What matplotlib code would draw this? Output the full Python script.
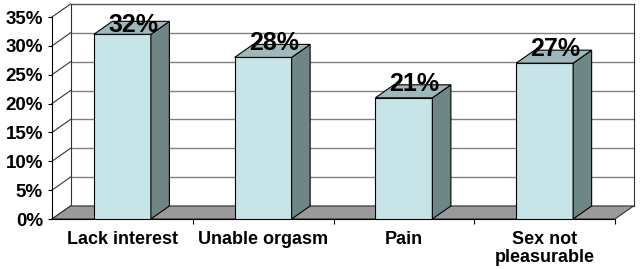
import matplotlib
matplotlib.use("Agg")
import matplotlib.pyplot as plt
from matplotlib.patches import Polygon

categories = ["Lack interest", "Unable orgasm", "Pain", "Sex not\npleasurable"]
values = [32, 28, 21, 27]
labels = ["32%", "28%", "21%", "27%"]
yticks = [0, 5, 10, 15, 20, 25, 30, 35]

W, H = 644, 269
PX_CAT = 140.75
PX_PCT = 5.771
DX = 18.5 / PX_CAT     # depth offset in category units
DY = 13.0 / PX_PCT     # depth offset in percent units
BW = 0.405
YMAX = 35

FRONT = "#C6E4E8"
SIDE = "#6E8686"
TOP = "#9EB9BB"
FLOOR = "#9A9A9A"
GRID = "#808080"

plt.rcParams['font.family'] = ['Liberation Sans', 'DejaVu Sans']
fig = plt.figure(figsize=(W / 100, H / 100), dpi=100)
ax_w = (4 + DX) * PX_CAT
ax_h = (YMAX + DY) * PX_PCT
ax = fig.add_axes([52 / W, 50 / H, ax_w / W, ax_h / H])
ax.set_xlim(-0.5, 3.5 + DX)
ax.set_ylim(0, YMAX + DY)
ax.set_facecolor("none")

x0, x1 = -0.5, 3.5
# back wall gridlines and left wall diagonals
for t in yticks:
    ax.plot([x0 + DX, x1 + DX], [t + DY, t + DY], color=GRID if t < YMAX else "#555555",
            lw=1.0, zorder=1, clip_on=False)
    ax.plot([x0, x0 + DX], [t, t + DY], color="#333333", lw=0.8, zorder=1, clip_on=False)
# back wall edges
ax.plot([x0 + DX, x0 + DX], [DY, YMAX + DY], color="#333333", lw=0.8, zorder=1, clip_on=False)
ax.plot([x1 + DX, x1 + DX], [DY, YMAX + DY], color="#333333", lw=0.8, zorder=1, clip_on=False)
# floor
ax.add_patch(Polygon([(x0, 0), (x1, 0), (x1 + DX, DY), (x0 + DX, DY)], closed=True,
                     facecolor=FLOOR, edgecolor="#333333", lw=0.8, zorder=2, clip_on=False))

# bars
xs = list(range(len(categories)))
ax.bar(xs, values, width=BW, color=FRONT, edgecolor="black", linewidth=0.8, zorder=3)
for x, v, lab in zip(xs, values, labels):
    l, r = x - BW / 2, x + BW / 2
    ax.add_patch(Polygon([(r, 0), (r + DX, DY), (r + DX, v + DY), (r, v)], closed=True,
                         facecolor=SIDE, edgecolor="black", lw=0.8, zorder=3, clip_on=False))
    ax.add_patch(Polygon([(l, v), (r, v), (r + DX, v + DY), (l + DX, v + DY)], closed=True,
                         facecolor=TOP, edgecolor="black", lw=0.8, zorder=3, clip_on=False))
    ly = min(v + 1.2, 32.4)
    ax.text(x + DX / 2 + 0.01, ly, lab, ha="center", va="baseline", fontsize=18,
            fontweight="bold", color="black", zorder=5)

# axes
for s in ["top", "right"]:
    ax.spines[s].set_visible(False)
ax.spines["left"].set_bounds(0, YMAX)
ax.spines["bottom"].set_bounds(x0, x1)
ax.spines["left"].set_linewidth(0.8)
ax.spines["bottom"].set_linewidth(0.8)
ax.set_yticks(yticks)
ax.set_yticklabels([f"{t}%" for t in yticks])
ax.tick_params(axis="y", direction="out", length=3, width=0.8, pad=3.5,
               labelsize=13.5)
ax.set_xticks(xs)
ax.set_xticklabels(categories, linespacing=1.0)
ax.set_xticks([0.5, 1.5, 2.5, 3.5], minor=True)
ax.tick_params(axis="x", which="major", length=0, pad=9, labelsize=13)
ax.tick_params(axis="x", which="minor", direction="out", length=3.5, width=0.8)
for lab in ax.get_xticklabels() + ax.get_yticklabels():
    lab.set_fontweight("bold")

fig.savefig("out.png", dpi=100, facecolor="white")
